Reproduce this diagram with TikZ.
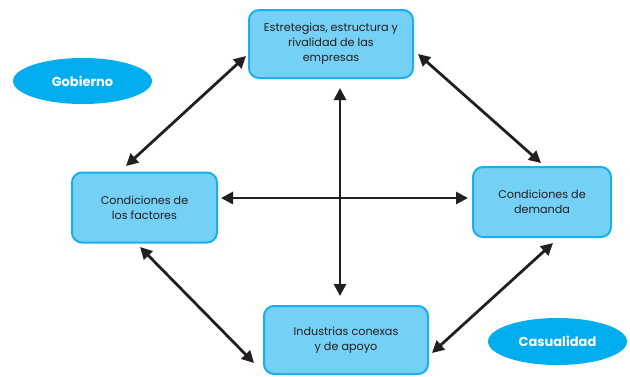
\documentclass[tikz,border=0pt]{standalone}
\usepackage{fontspec}
\setmainfont{Poppins}
\usetikzlibrary{arrows.meta,shapes.geometric}
\definecolor{boxfill}{HTML}{75D0F5}
\definecolor{boxline}{HTML}{1AAEEA}
\definecolor{ellfill}{HTML}{00AEEF}
\definecolor{arrowc}{HTML}{231F20}
\begin{document}
\begin{tikzpicture}[x=1pt,y=-1pt,
  bx/.style={draw=boxline, line width=2pt, fill=boxfill, rounded corners=10pt, align=center,
    font=\fontsize{11.2}{15}\selectfont, text=arrowc, inner sep=0pt},
  ell/.style={ellipse, fill=ellfill, text=white, font=\fontsize{13}{15}\selectfont\bfseries, inner sep=0pt},
  dbl/.style={arrowc, line width=2.8pt, {Triangle[length=12pt,width=12pt]}-{Triangle[length=12pt,width=12pt]}}]
\useasboundingbox (0,0) rectangle (630,376);
\node[bx, minimum width=164pt, minimum height=68pt] (top) at (331,44) {Estretegias, estructura y\\rivalidad de las\\empresas};
\node[bx, minimum width=145pt, minimum height=70pt] (left) at (144.5,207.5) {Condiciones de\\los factores};
\node[bx, minimum width=138pt, minimum height=70pt] (right) at (542,202) {Condiciones de\\demanda};
\node[bx, minimum width=164pt, minimum height=68pt] (bot) at (346,340) {Industrias conexas\\y de apoyo};
\node[ell, minimum width=139pt, minimum height=46pt] (gob) at (82.5,81) {Gobierno};
\node[ell, minimum width=139pt, minimum height=47pt] (cas) at (557.5,341.5) {Casualidad};
\coordinate (hL) at (221,198);
\coordinate (hR) at (468,198);
\coordinate (vT) at (340,88);
\coordinate (vB) at (340,296);
\coordinate (a1) at (246,56);
\coordinate (a2) at (126,166);
\coordinate (b1) at (418,54);
\coordinate (b2) at (541,163);
\coordinate (c1) at (140,247);
\coordinate (c2) at (254,363);
\coordinate (d1) at (553,243);
\coordinate (d2) at (432,353);
\draw[dbl] (vT) -- (vB);
\draw[dbl] (hL) -- (hR);
\draw[dbl] (a1) -- (a2);
\draw[dbl] (b1) -- (b2);
\draw[dbl] (c1) -- (c2);
\draw[dbl] (d1) -- (d2);
\end{tikzpicture}
\end{document}
